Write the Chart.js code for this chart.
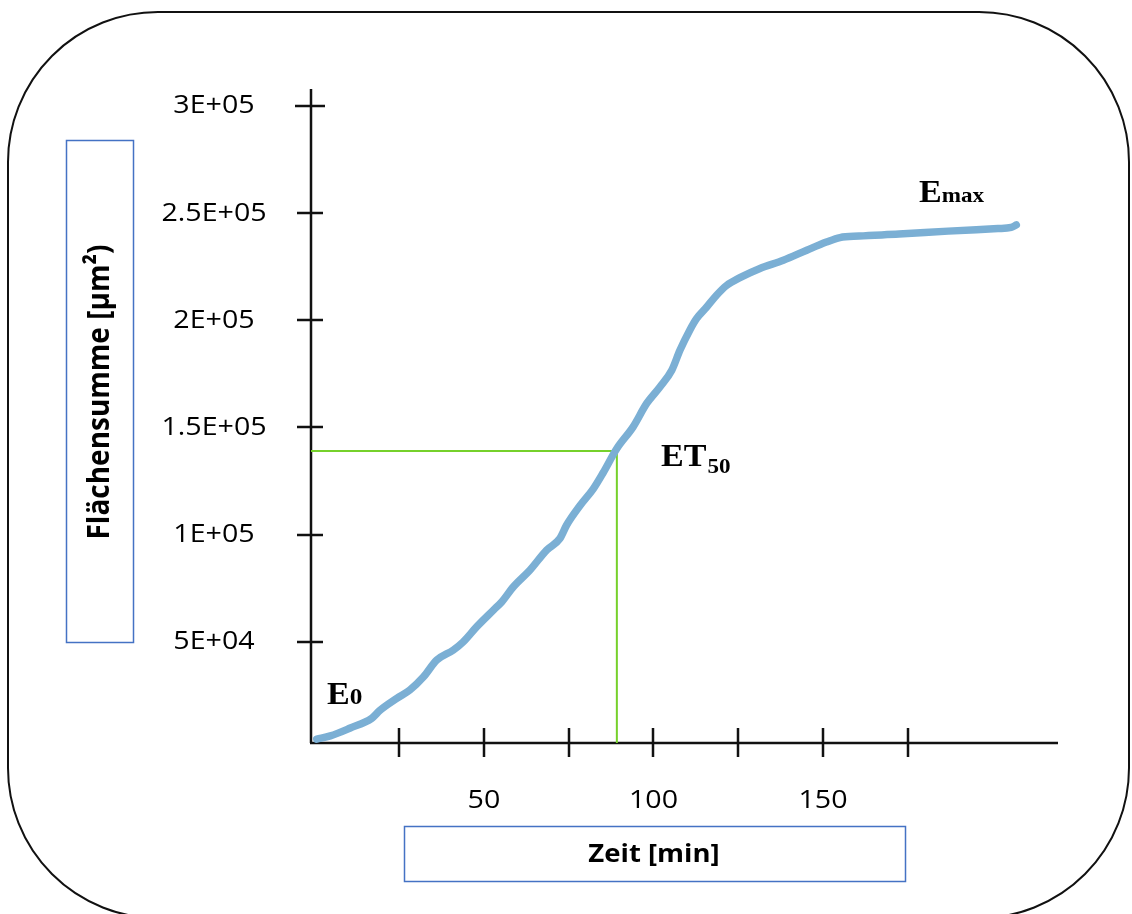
<!DOCTYPE html>
<html>
<head>
<meta charset="utf-8">
<script src="https://cdn.jsdelivr.net/npm/chart.js@4"></script>
<style>
  html, body { margin: 0; padding: 0; background: #fff; }
  #chart { display: block; }
</style>
</head>
<body>
<canvas id="chart" width="1132" height="914"></canvas>
<script>
// data
const timeMin = [0.7, 4.7, 10.6, 16.9, 19.4, 24.3, 28.2, 32.2, 36.1, 41.0, 43.9, 47.9, 52.8, 55.3, 58.7, 63.6, 68.5, 72.4, 74.4, 78.3, 82.3, 85.2, 89.2, 94.0, 98.0, 101.9, 105.4, 107.8, 110.7, 112.7, 115.7, 118.6, 121.6, 125.5, 131.4, 138.3, 145.2, 151.0, 155.0, 160.6, 172.4, 186.9, 201.6, 205.5, 207.0];
const areaSum = [4600, 6100, 9800, 14300, 18100, 23600, 27600, 33700, 41500, 46200, 50000, 57100, 64800, 68700, 75700, 83500, 92800, 98200, 104500, 113500, 121500, 129000, 140200, 150300, 161200, 168900, 176700, 186000, 195400, 200800, 206200, 211700, 216300, 219900, 224200, 228000, 232700, 236500, 238600, 239300, 240200, 241600, 242800, 243300, 244500];

const xTicks = [25, 50, 75, 100, 125, 150, 175];
const xTickLabels = ["", "50", "", "100", "", "150", ""];
const yTicks = [50000, 100000, 150000, 200000, 250000, 300000];
const yTickLabels = ["5E+04", "1E+05", "1.5E+05", "2E+05", "2.5E+05", "3E+05"];

const et50Time = 89.2;
const et50Area = 139000;

const xMin = -1, xMax = 219.3;
const yMin = 2800, yMax = 307900;

const xTitle = "Zeit [min]";
const yTitle = "Flächensumme [µm²)";

// the source picture is a bit wide, stretch text the same way
const STRETCH = 1.1;

function stretchedText(ctx, text, x, y, font, align, baseline) {
    ctx.save();
    ctx.font = font;
    ctx.textBaseline = baseline || "middle";
    ctx.textAlign = "left";
    const w = ctx.measureText(text).width * STRETCH;
    let left = x;
    if (align === "center") left = x - w / 2;
    if (align === "right") left = x - w;
    ctx.translate(left, y);
    ctx.scale(STRETCH, 1);
    ctx.fillText(text, 0, 0);
    ctx.restore();
    return w;
}

function roundRect(ctx, x, y, w, h, r) {
    ctx.beginPath();
    ctx.moveTo(x + r, y);
    ctx.lineTo(x + w - r, y);
    ctx.arcTo(x + w, y, x + w, y + r, r);
    ctx.lineTo(x + w, y + h - r);
    ctx.arcTo(x + w, y + h, x + w - r, y + h, r);
    ctx.lineTo(x + r, y + h);
    ctx.arcTo(x, y + h, x, y + h - r, r);
    ctx.lineTo(x, y + r);
    ctx.arcTo(x, y, x + r, y, r);
    ctx.closePath();
}

const decor = {
    id: "decor",
    beforeDraw(chart) {
        const ctx = chart.ctx;
        ctx.save();
        ctx.fillStyle = "#fff";
        ctx.fillRect(0, 0, chart.width, chart.height);
        ctx.strokeStyle = "#111";
        ctx.lineWidth = 2;
        roundRect(ctx, 8, 12, 1121, 906, 150);
        ctx.stroke();
        ctx.restore();
    },
    beforeDatasetsDraw(chart) {
        const ctx = chart.ctx;
        const { left, right, top, bottom } = chart.chartArea;
        const xs = chart.scales.x, ys = chart.scales.y;
        ctx.save();
        ctx.strokeStyle = "#111";
        ctx.lineWidth = 2.5;
        ctx.beginPath();
        ctx.moveTo(left, top);
        ctx.lineTo(left, bottom);
        ctx.moveTo(left - 1, bottom);
        ctx.lineTo(right, bottom);
        // crossing ticks
        yTicks.forEach((v, i) => {
            const py = Math.round(ys.getPixelForValue(v));
            const half = i === yTicks.length - 1 ? 16 : 14;
            ctx.moveTo(left - half, py);
            ctx.lineTo(left + half - 2, py);
        });
        xTicks.forEach(v => {
            const px = Math.round(xs.getPixelForValue(v));
            ctx.moveTo(px, bottom - 15);
            ctx.lineTo(px, bottom + 14);
        });
        ctx.stroke();

        ctx.fillStyle = "#000";
        yTicks.forEach((v, i) => {
            stretchedText(ctx, yTickLabels[i], 214, ys.getPixelForValue(v), "26px 'Open Sans'", "center");
        });
        xTicks.forEach((v, i) => {
            if (xTickLabels[i]) stretchedText(ctx, xTickLabels[i], xs.getPixelForValue(v), 801, "26px 'Open Sans'", "center");
        });

        // title boxes
        ctx.strokeStyle = "#4472c4";
        ctx.lineWidth = 1.5;
        ctx.strokeRect(66.5, 140.5, 67, 502);
        ctx.strokeRect(404.5, 826.5, 501, 55);

        stretchedText(ctx, xTitle, 654, 855, "bold 25px 'Open Sans'", "center");

        ctx.save();
        ctx.translate(100, 392);
        ctx.rotate(-Math.PI / 2);
        ctx.font = "bold 28px 'Open Sans'";
        ctx.textAlign = "center";
        ctx.textBaseline = "middle";
        ctx.scale(1, STRETCH);
        ctx.fillText(yTitle, 0, 0);
        ctx.restore();

        // point labels
        let w = stretchedText(ctx, "E", 327, 704, "bold 31px 'Liberation Serif'", "left", "alphabetic");
        stretchedText(ctx, "0", 327 + w, 704, "bold 23px 'Liberation Serif'", "left", "alphabetic");
        w = stretchedText(ctx, "ET", 661, 466, "bold 31px 'Liberation Serif'", "left", "alphabetic");
        stretchedText(ctx, "50", 661 + w + 1, 473, "bold 21px 'Liberation Serif'", "left", "alphabetic");
        w = stretchedText(ctx, "E", 919, 202, "bold 31px 'Liberation Serif'", "left", "alphabetic");
        stretchedText(ctx, "max", 919 + w, 202, "bold 21px 'Liberation Serif'", "left", "alphabetic");
        ctx.restore();
    }
};

new Chart(document.getElementById("chart"), {
    type: "line",
    data: {
        datasets: [
            {
                label: "Flächensumme",
                data: timeMin.map((t, i) => ({ x: t, y: areaSum[i] })),
                borderColor: "#7bafd4",
                borderWidth: 7.5,
                borderCapStyle: "round",
                borderJoinStyle: "round",
                cubicInterpolationMode: "monotone",
                pointRadius: 0,
                fill: false,
            },
            {
                label: "ET50",
                data: [
                    { x: xMin, y: et50Area },
                    { x: et50Time, y: et50Area },
                    { x: et50Time, y: yMin },
                ],
                borderColor: "#76d12b",
                borderWidth: 2,
                tension: 0,
                pointRadius: 0,
                fill: false,
            },
        ],
    },
    options: {
        responsive: false,
        animation: false,
        layout: { padding: { left: 311, right: 74, top: 89, bottom: 171 } },
        plugins: {
            legend: { display: false },
            tooltip: { enabled: false },
        },
        scales: {
            x: { type: "linear", min: xMin, max: xMax, display: false },
            y: { type: "linear", min: yMin, max: yMax, display: false },
        },
    },
    plugins: [decor],
});
</script>
</body>
</html>
